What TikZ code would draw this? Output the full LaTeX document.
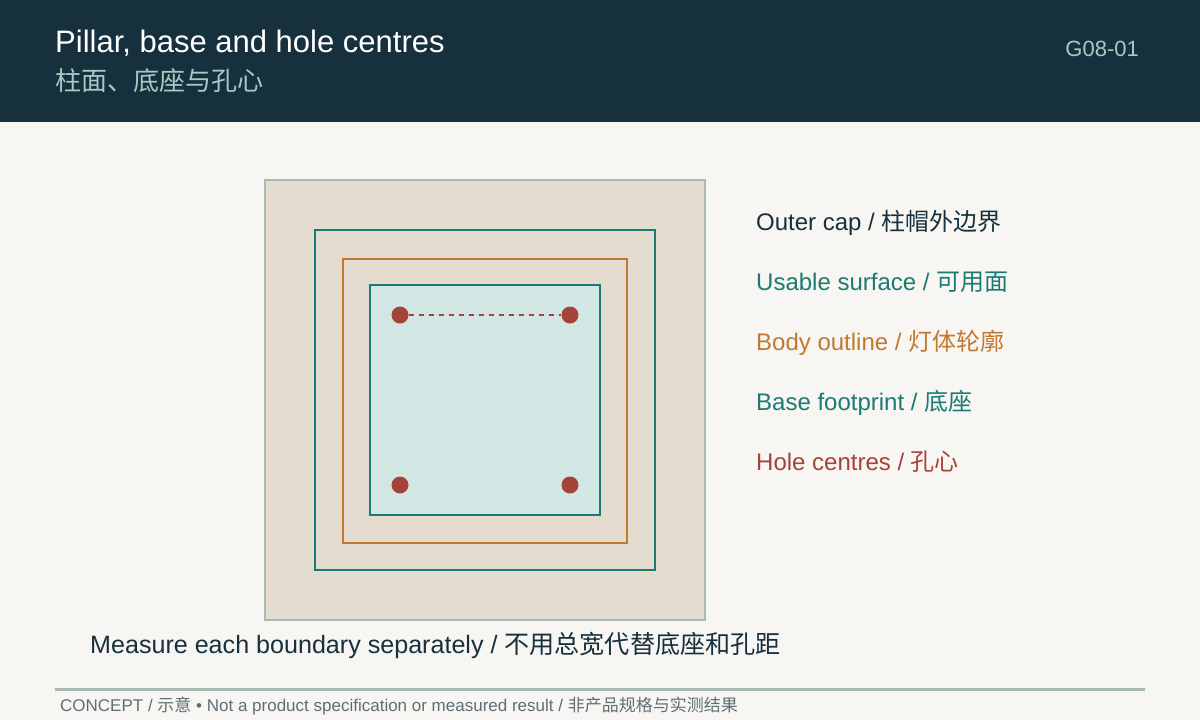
\documentclass[tikz,border=0pt]{standalone}
\usepackage{fontspec}
\setmainfont{Liberation Sans}
\newfontfamily\cjk{Noto Sans CJK SC}
\definecolor{navy}{HTML}{17303D}
\definecolor{paper}{HTML}{F7F6F2}
\definecolor{mint}{HTML}{A3CCC2}
\definecolor{capfill}{HTML}{E4DDCF}
\definecolor{capline}{HTML}{A9B9B6}
\definecolor{tealline}{HTML}{1B7A72}
\definecolor{amber}{HTML}{C0792F}
\definecolor{basefill}{HTML}{D2E6E3}
\definecolor{holered}{HTML}{A5423A}
\definecolor{footgray}{HTML}{5E6F74}

\begin{document}
\begin{tikzpicture}[x=1pt,y=-1pt]
   \tikzstyle{frame}=[rectangle, draw, line width=2pt, inner sep=0pt]
   \tikzstyle{hole}=[circle, fill=holered, minimum size=17pt, inner sep=0pt]
   \tikzstyle{legend}=[anchor=base west, inner sep=0pt, font=\fontsize{24}{28}\selectfont]
   \useasboundingbox (0,0) rectangle (1200,720);
   \fill[paper] (0,0) rectangle (1200,720);
   \fill[navy] (0,0) rectangle (1200,122);
   % header
   \node[anchor=base west, inner sep=0pt, text=white, font=\fontsize{31}{35}\selectfont] (title) at (55,52) {Pillar, base and hole centres};
   \node[anchor=west, inner sep=0pt, text=mint, font=\fontsize{26}{30}\selectfont\cjk] (subtitle) at (55,81) {柱面、底座与孔心};
   \node[anchor=base east, inner sep=0pt, text=mint, font=\fontsize{22}{26}\selectfont] (code) at (1139,56) {G08-01};
   % nested outlines
   \node[frame, draw=capline, fill=capfill, minimum size=440pt] (cap) at (485,400) {};
   \node[frame, draw=tealline, minimum size=340pt] (usable) at (485,400) {};
   \node[frame, draw=amber, minimum size=284pt] (body) at (485,401) {};
   \node[frame, draw=tealline, fill=basefill, minimum size=230pt] (base) at (485,400) {};
   \foreach \n/\x/\y in {1/400/315,2/570/315,3/400/485,4/570/485} {
       \node[hole] (h\n) at (\x,\y) {};
   }
   \draw[holered, line width=1.8pt, dash pattern=on 5.5pt off 4.5pt] (h1) -- (h2);
   % legend
   \foreach \i/\en/\zh/\col in {1/{Outer cap}/{柱帽外边界}/navy,
                                2/{Usable surface}/{可用面}/tealline,
                                3/{Body outline}/{灯体轮廓}/amber,
                                4/{Base footprint}/{底座}/tealline,
                                5/{Hole centres}/{孔心}/holered} {
       \node[legend, text=\col] (key\i) at (756,{170+60*\i}) {\en\ / {\cjk\zh}};
   }
   % caption and footer
   \node[anchor=base west, inner sep=0pt, text=navy, font=\fontsize{25.1}{30}\selectfont] (note) at (90,653) {Measure each boundary separately / {\cjk 不用总宽代替底座和孔距}};
   \coordinate (ruleL) at (55,689);
   \coordinate (ruleR) at (1145,689);
   \draw[capline, line width=3pt] (ruleL) -- (ruleR);
   \node[anchor=base west, inner sep=0pt, text=footgray, font=\fontsize{17}{20}\selectfont] (footer) at (60,711) {CONCEPT / {\cjk 示意} • Not a product specification or measured result / {\cjk 非产品规格与实测结果}};
\end{tikzpicture}
\end{document}
